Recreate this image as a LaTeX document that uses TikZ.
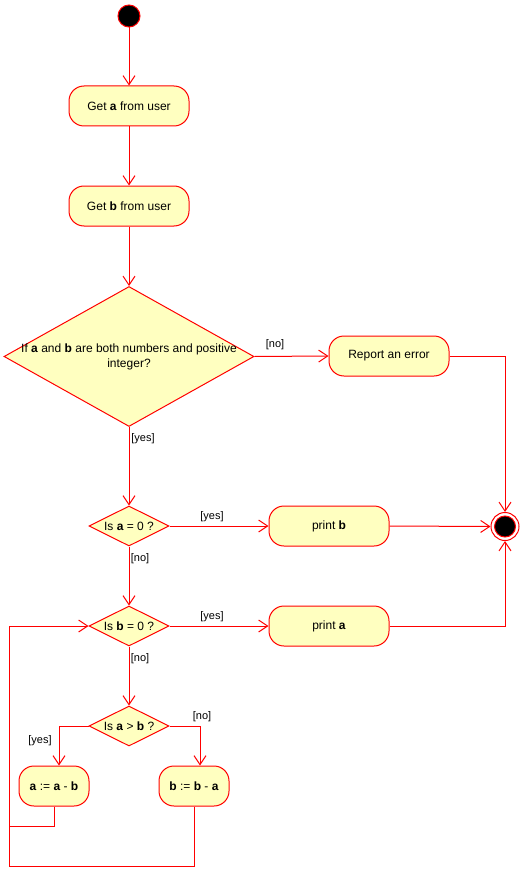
\documentclass[tikz,border=0pt]{standalone}
\usepackage{fontspec}
\setmainfont{Liberation Sans}
\usetikzlibrary{arrows.meta,shapes.geometric}
\definecolor{umlred}{HTML}{FF0000}
\definecolor{umlfill}{HTML}{FFFFC0}
\tikzset{
    action/.style={draw=umlred, fill=umlfill, line width=1pt, rounded corners=15pt, minimum width=120pt, minimum height=40pt, inner sep=0pt, font=\fontsize{12}{15}\selectfont},
    decision/.style={diamond, draw=umlred, fill=umlfill, line width=1pt, inner sep=0pt, minimum width=80pt, minimum height=40pt},
    every label/.style={font=\fontsize{12}{15}\selectfont, inner sep=0pt},
    guard/.style={inner sep=0pt, font=\fontsize{11}{13}\selectfont},
    wire/.style={draw=umlred, line width=1pt},
    flow/.style={wire, -{Straight Barb[length=9pt,width=12pt]}}
}
\begin{document}
\begin{tikzpicture}[x=1pt,y=-1pt]
            \useasboundingbox[fill=white] (0,0) rectangle (521,869);

            \node[circle, draw=umlred, fill=black, line width=1pt, minimum size=22pt, inner sep=0pt] (start) at (129,16) {};
            \node[action] (getA) at (129,106) {Get \textbf{a} from user};
            \node[action] (getB) at (129,206) {Get \textbf{b} from user};
            \node[decision, minimum width=250pt, minimum height=140pt, label={[align=center]center:If \textbf{a} and \textbf{b} are both numbers and positive\\integer?}] (valid) at (129,356.5) {};
            \node[action] (report) at (389,356) {Report an error};
            \node[decision, label={center:Is \textbf{a} = 0 ?}] (aZero) at (129,526) {};
            \node[action] (printB) at (329,526) {print \textbf{b}};
            \node[decision, label={center:Is \textbf{b} = 0 ?}] (bZero) at (129,626) {};
            \node[action] (printA) at (329,626) {print \textbf{a}};
            \node[decision, label={center:Is \textbf{a} > \textbf{b} ?}] (greater) at (129,726) {};
            \node[action, minimum width=70pt] (subA) at (54,786) {\textbf{a} := \textbf{a} - \textbf{b}};
            \node[action, minimum width=70pt] (subB) at (194,786) {\textbf{b} := \textbf{b} - \textbf{a}};

            \node[circle, draw=umlred, fill=white, line width=1pt, minimum size=28pt, inner sep=0pt] (final) at (505,526.5) {};
            \node[circle, draw=umlred, fill=black, line width=1pt, minimum size=21pt, inner sep=0pt] (finalDot) at (final) {};

            \coordinate (loopA) at (9,826);
            \coordinate (loopB) at (9,866);

            \draw[flow] (start) -- (getA);
            \draw[flow] (getA) -- (getB);
            \draw[flow] (getB) -- (valid);
            \draw[flow] (valid.east) -- (report.west);
            \draw[flow] (valid.south) -- (aZero.north);
            \draw[flow] (aZero.east) -- (printB.west);
            \draw[flow] (aZero.south) -- (bZero.north);
            \draw[flow] (bZero.east) -- (printA.west);
            \draw[flow] (bZero.south) -- (greater.north);
            \draw[flow] (greater.west) -| ([xshift=5pt]subA.north);
            \draw[flow] (greater.east) -| ([xshift=6pt]subB.north);
            \draw[flow] (report.east) -| (final.north);
            \draw[flow] (printB.east) -- (final.west);
            \draw[flow] (printA.east) -| (final.south);
            \draw[wire] (subA.south) |- (loopA);
            \draw[flow] (subB.south) |- (loopB) |- (bZero.west);

            \node[guard] (noValid) at (275,345) {[no]};
            \node[guard] (yesValid) at (143,439) {[yes]};
            \node[guard] (yesAZero) at (212,517) {[yes]};
            \node[guard] (noAZero) at (140,559) {[no]};
            \node[guard] (yesBZero) at (212,617) {[yes]};
            \node[guard] (noBZero) at (140,659) {[no]};
            \node[guard] (yesGreater) at (40,741) {[yes]};
            \node[guard] (noGreater) at (202,717) {[no]};
        \end{tikzpicture}
\end{document}
